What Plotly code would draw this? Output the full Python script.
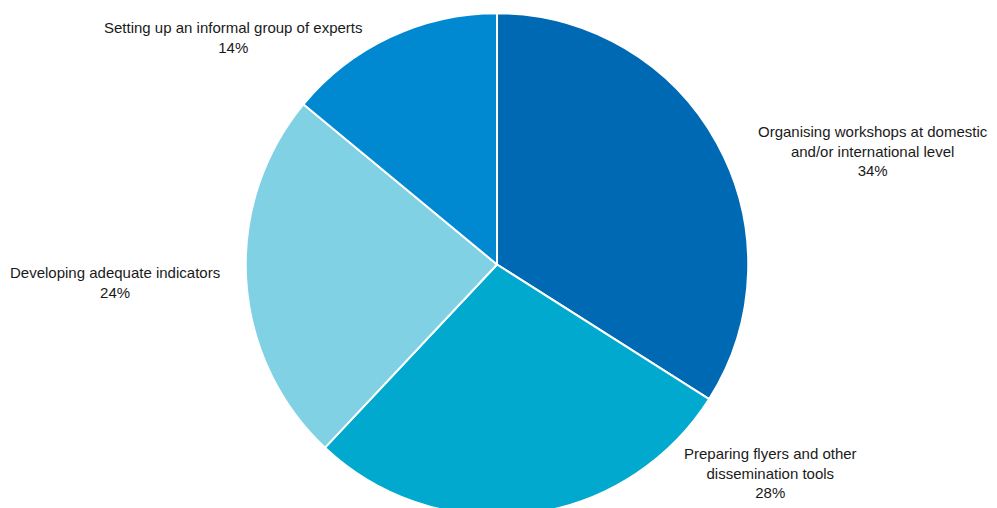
import plotly.graph_objects as go

# Share of planned activities
categories = [
    "Organising workshops at domestic<br>and/or international level",
    "Preparing flyers and other<br>dissemination tools",
    "Developing adequate indicators",
    "Setting up an informal group of experts",
]
shares = [34, 28, 24, 14]
colors = ["#0069B4", "#00A9CD", "#80D1E3", "#0089D1"]

W, H = 997, 516
cx, cy, r = 497, 264.5, 251.25  # pie centre and radius in pixels


def px(x):
    return x / W


def py(y):
    return 1 - y / H


fig = go.Figure(
    go.Pie(
        labels=categories,
        values=shares,
        sort=False,
        direction="clockwise",
        rotation=0,
        textinfo="none",
        hoverinfo="label+percent",
        marker=dict(colors=colors, line=dict(color="white", width=2)),
        domain=dict(x=[px(cx - r), px(cx + r)], y=[py(cy + r), py(cy - r)]),
        showlegend=False,
    )
)

# label anchor points (pixel centre of each text block)
label_pos = [(873, 151), (770, 473), (115, 282), (233, 37)]
for name, val, (lx, ly) in zip(categories, shares, label_pos):
    fig.add_annotation(
        x=px(lx), y=py(ly), xref="paper", yref="paper",
        text=f"{name}<br>{val}%", showarrow=False,
        xanchor="center", yanchor="middle", align="center",
        font=dict(family="Liberation Sans Narrow, Arial Narrow, sans-serif", size=15, color="#1a1a1a"),
    )

fig.update_layout(
    width=W, height=H,
    margin=dict(l=0, r=0, t=0, b=0),
    paper_bgcolor="white", plot_bgcolor="white",
)

fig.write_html(
    "out.html",
    post_script="document.documentElement.style.overflow='hidden';document.body.style.overflow='hidden';",
)
